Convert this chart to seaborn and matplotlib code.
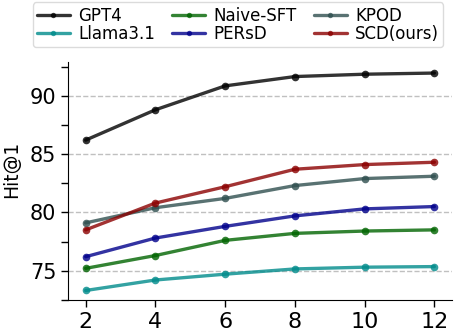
import numpy as np
import pandas as pd
import matplotlib
matplotlib.use('Agg')
import matplotlib.pyplot as plt
from matplotlib.ticker import MultipleLocator
import seaborn as sns


steps = [2, 4, 6, 8, 10, 12]
models = ['GPT4', 'Llama3.1', 'Naive-SFT', 'PERsD', 'KPOD', 'SCD(ours)']
gpt4 = [86.2, 88.8, 90.85, 91.65, 91.85, 91.95]
llama = [73.3, 74.2, 74.7, 75.15, 75.3, 75.35]
naive_sft = [75.2, 76.3, 77.6, 78.2, 78.4, 78.5]
persd = [76.2, 77.8, 78.8, 79.7, 80.3, 80.5]
kpod = [79.1, 80.4, 81.2, 82.3, 82.9, 83.1]
scd = [78.5, 80.8, 82.2, 83.7, 84.1, 84.3]
colors = ['black', 'darkcyan', 'darkgreen', 'darkblue', 'darkslategray', 'darkred']


sns.set_style('ticks', rc = {'axes.edgecolor': 'black', 'text.color': 'black',
							 'axes.labelcolor': 'black', 'xtick.color': 'black',
							 'ytick.color': 'black'})

df = pd.DataFrame({
	'step': steps * 6,
	'Hit@1': gpt4 + llama + naive_sft + persd + kpod + scd,
	'model': np.repeat(models, len(steps)),
})

fig, ax = plt.subplots(figsize = (4.55, 3.35), dpi = 100)
sns.lineplot(data = df, x = 'step', y = 'Hit@1', hue = 'model', hue_order = models,
			 palette = colors, marker = 'o', markersize = 5.5, markeredgewidth = 0,
			 linewidth = 2.4, alpha = 0.8, ax = ax)

ax.set_xlim(1.5, 12.5)
ax.set_ylim(72.5, 92.9)
ax.set_xticks(steps)
ax.yaxis.set_major_locator(MultipleLocator(5))
ax.yaxis.set_minor_locator(MultipleLocator(2.5))
ax.tick_params(axis = 'both', which = 'major', length = 5, width = 1)
ax.tick_params(axis = 'x', labelsize = 16)
ax.tick_params(axis = 'y', labelsize = 15)
ax.tick_params(axis = 'y', which = 'minor', length = 5, width = 1)
ax.set_xlabel('')
ax.set_ylabel('Hit@1', fontsize = 13.5)
ax.yaxis.set_label_coords(-0.122, 0.55)
ax.grid(axis = 'y', which = 'major', linestyle = '--', color = 'silver', linewidth = 1)
ax.spines['top'].set_visible(False)
ax.spines['right'].set_visible(False)

handles, labels = ax.get_legend_handles_labels()
ax.get_legend().remove()
fig.legend(handles, labels, ncol = 3, fontsize = 12, loc = 'upper center',
		   bbox_to_anchor = (0.523, 1.0), borderaxespad = 0.15, handlelength = 2,
		   columnspacing = 1.0, handletextpad = 0.5, labelspacing = 0.0, borderpad = 0.25,
		   markerscale = 0.7, frameon = True, edgecolor = 'lightgray', fancybox = True)

fig.subplots_adjust(left = 0.15, right = 0.993, top = 0.815, bottom = 0.105)
fig.savefig('out.png', dpi = 100)
